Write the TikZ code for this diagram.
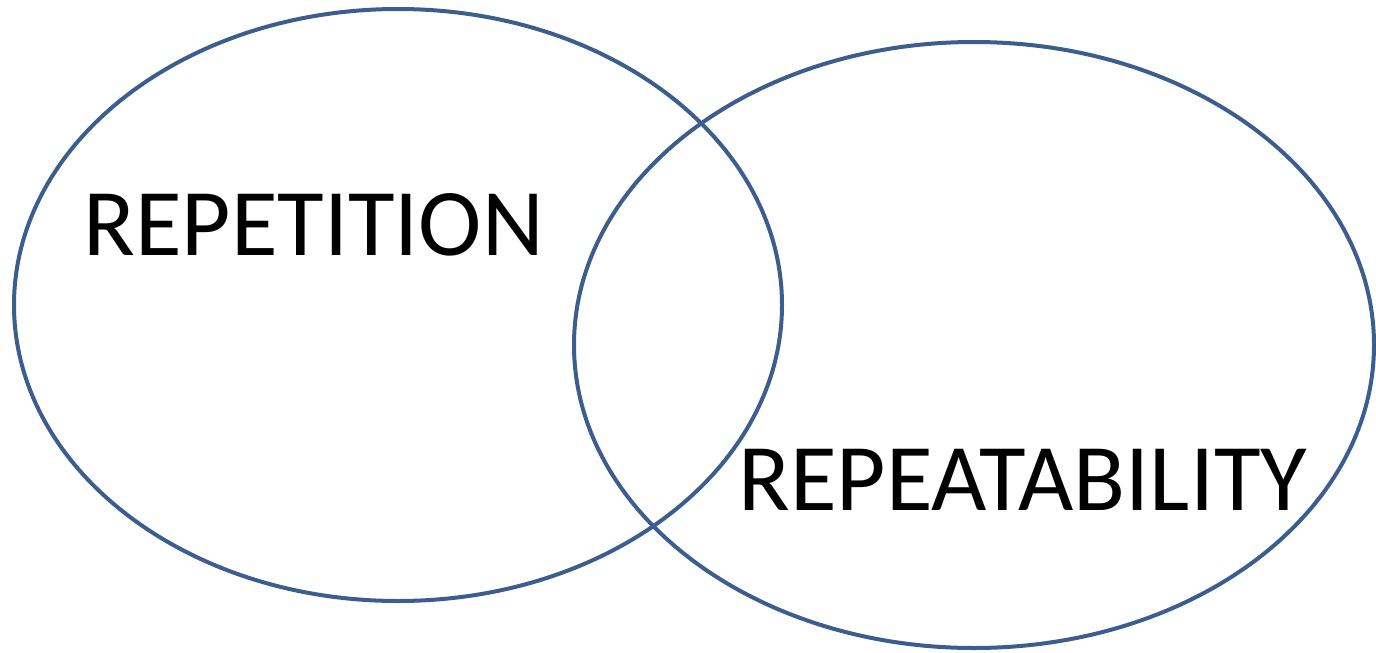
\documentclass[tikz,border=0pt]{standalone}
\usepackage{fontspec}
\setmainfont{Carlito}
\begin{document}
\begin{tikzpicture}[x=1pt,y=-1pt,
  venn/.style={draw=vennblue,line width=4pt},
  lbl/.style={font=\fontsize{95.5}{114}\selectfont,text=black,inner sep=0pt,anchor=base west}]
\definecolor{vennblue}{HTML}{3B5E8F}
\useasboundingbox (0,0) rectangle (1376,653);
\draw[venn] (398,305) ellipse [x radius=384, y radius=296];
\draw[venn] (974,345) ellipse [x radius=400, y radius=303];
\node[lbl] (rep) at (83,255) {REPETITION};
\node[lbl] (repa) at (738,510) {REPEATABILITY};
\end{tikzpicture}
\end{document}
